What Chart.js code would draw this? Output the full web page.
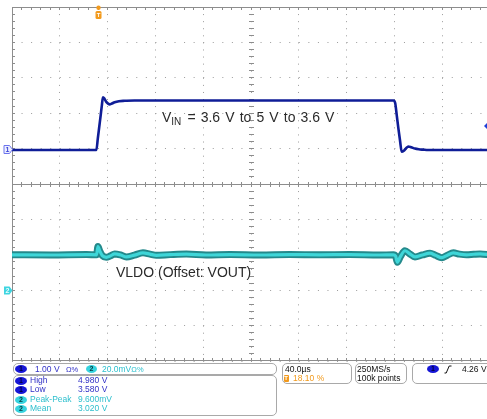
<!DOCTYPE html>
<html>
<head>
<meta charset="utf-8">
<title>VIN line transient – VLDO response</title>
<script src="https://cdn.jsdelivr.net/npm/chart.js@4.4.1/dist/chart.umd.min.js"></script>
<style>
  html, body { margin:0; padding:0; background:#fff; width:487px; height:419px; overflow:hidden; }
  #scope { position:absolute; left:0; top:0; }
  .note { position:absolute; font-family:'Liberation Sans', Arial, sans-serif; font-size:14px; line-height:16px; color:#2b2b2b; white-space:nowrap; }
  .note sub { font-size:10px; vertical-align:-3px; line-height:0; margin-right:1px; }
  .box { position:absolute; border:1px solid #a9a9a9; border-radius:5px; box-sizing:border-box; }
  .txt { position:absolute; font-family:'Liberation Sans', Arial, sans-serif; font-size:8.5px; line-height:9px; white-space:nowrap; color:#111; }
  .c1 { color:#3131c6; }
  .c2 { color:#2cbfcd; }
  .or { color:#f29a1d; }
  .badge { position:absolute; height:8px; border-radius:50%; font-family:'Liberation Sans', Arial, sans-serif; font-size:7px; font-weight:bold; line-height:8px; text-align:center; }
  .b1 { background:#1616d6; color:#00003c; }
  .b2 { background:#37d3df; color:#053a3e; }
  .tb { position:absolute; width:5px; height:7px; border-radius:1px; background:#f29a1d; color:#fff; font-family:'Liberation Sans', Arial, sans-serif; font-size:6px; font-weight:bold; line-height:7px; text-align:center; }
</style>
</head>
<body>
<canvas id="scope" width="492" height="419"></canvas>

<div class="note" style="left:162px;top:109px;word-spacing:1.2px">V<sub>IN</sub> = 3.6 V to 5 V to 3.6 V</div>
<div class="note" style="left:116px;top:264px">VLDO (Offset: VOUT)</div>

<!-- vertical settings -->
<div class="box" style="left:13px;top:363px;width:264px;height:12px"></div>
<div class="badge b1" style="left:15px;top:365px;width:12px">1</div>
<div class="txt c1" style="left:35px;top:364.5px">1.00 V</div>
<div class="txt c1" style="left:66px;top:364.5px;font-size:7.5px">Ω%</div>
<div class="badge b2" style="left:86px;top:365px;width:11px">2</div>
<div class="txt c2" style="left:102px;top:364.5px">20.0mV<span style="font-size:7.5px">Ω%</span></div>

<!-- measurements -->
<div class="box" style="left:13px;top:375px;width:264px;height:41px"></div>
<div class="badge b1" style="left:15px;top:376.5px;width:12px">1</div>
<div class="txt c1" style="left:30px;top:375.6px">High</div>
<div class="txt c1" style="left:78px;top:375.6px">4.980 V</div>
<div class="badge b1" style="left:15px;top:386px;width:12px">1</div>
<div class="txt c1" style="left:30px;top:385px">Low</div>
<div class="txt c1" style="left:78px;top:385px">3.580 V</div>
<div class="badge b2" style="left:15px;top:395.5px;width:12px">2</div>
<div class="txt c2" style="left:30px;top:394.9px">Peak-Peak</div>
<div class="txt c2" style="left:78px;top:394.9px">9.600mV</div>
<div class="badge b2" style="left:15px;top:405px;width:12px">2</div>
<div class="txt c2" style="left:30px;top:404.3px">Mean</div>
<div class="txt c2" style="left:78px;top:404.3px">3.020 V</div>

<!-- horizontal settings -->
<div class="box" style="left:282px;top:363px;width:70px;height:21px"></div>
<div class="txt" style="left:285px;top:364.5px">40.0µs</div>
<div class="tb" style="left:283.5px;top:375px">T</div>
<div class="txt or" style="left:293px;top:374px">18.10 %</div>

<div class="box" style="left:355px;top:363px;width:52px;height:21px"></div>
<div class="txt" style="left:357px;top:364.5px">250MS/s</div>
<div class="txt" style="left:357px;top:374px">100k points</div>

<!-- trigger settings -->
<div class="box" style="left:412px;top:363px;width:90px;height:21px"></div>
<div class="badge b1" style="left:427px;top:365px;width:12px">1</div>
<svg style="position:absolute;left:444px;top:365px" width="8" height="9" viewBox="0 0 8 9">
  <polyline points="0.5,8 2.2,8 5.2,1 7.5,1" fill="none" stroke="#111" stroke-width="1"/>
</svg>
<div class="txt" style="left:462px;top:364.5px">4.26 V</div>

<script>
// ---- acquisition settings ----
const TIME_PER_DIV = 40;                 // µs / div
const TRIG_POS = 0.181;                  // trigger position in record (18.10 %)
const X_MIN = -TRIG_POS * 10 * TIME_PER_DIV;
const X_MAX = X_MIN + 10 * TIME_PER_DIV;

const CH1_PER_DIV = 1.0;                 // V / div
const CH1_CENTER = 2.62;                 // V at screen centre
const CH1_REF = 3.6;                     // channel 1 level marker
const CH2_PER_DIV = 0.020;               // V / div
const CH2_CENTER = 3.060;                // V at screen centre
const CH2_REF = 3.000;                   // channel 2 offset marker (VOUT)
const TRIG_LEVEL = 4.26;                 // V, rising edge on channel 1

// ---- channel 1: VIN (V) vs time (µs) ----
const ch1Time = [X_MIN, -1.8, -0.6, 0.6, 1.8, 2.8, 3.7, 5.0, 6.5, 8.0, 9.3, 11.0, 13.5, 17.0, 22.0, 30.0,
                 247.0, 248.3, 249.6, 250.9, 252.3, 253.7, 255.5, 257.4, 259.2, 261.6, 264.8, 268.0, 271.5, 276.0, X_MAX];
const ch1Volts = [3.58, 3.58, 3.90, 4.23, 4.56, 4.84, 5.07, 5.03, 4.94, 4.89, 4.87, 4.89, 4.93, 4.96, 4.97, 4.98,
                  4.98, 4.90, 4.55, 4.20, 3.85, 3.53, 3.56, 3.63, 3.68, 3.66, 3.62, 3.60, 3.59, 3.58, 3.58];

// ---- channel 2: VLDO (V) vs time (µs) ----
const ch2Time = [X_MIN, -40, -10, -1.6, -0.5, 1.0, 3.2, 6.5, 10.0, 13.5, 18.5, 23.3, 30.0, 37.2, 43.0, 48.4,
                 60.0, 73.5, 90.0, 110, 135, 160, 185, 210, 235, 246.8, 248.6, 250.0, 252.6, 256.4, 260.5,
                 264.8, 271.0, 277.4, 282.0, 287.2, 292.0, 296.9, 302.0, 308.0, 314.0, 319.3, X_MAX];
const ch2Volts = [3.0200, 3.0199, 3.0201, 3.0200, 3.0247, 3.0222, 3.0195, 3.0186, 3.0194, 3.0205, 3.0199, 3.0188, 3.0198, 3.0211, 3.0204, 3.0197,
                  3.0201, 3.0204, 3.0199, 3.0201, 3.0199, 3.0201, 3.0200, 3.0201, 3.0199, 3.0200, 3.0193, 3.0158, 3.0190, 3.0223, 3.0205,
                  3.0188, 3.0199, 3.0209, 3.0197, 3.0184, 3.0198, 3.0211, 3.0204, 3.0200, 3.0203, 3.0205, 3.0200];

const pts = (t, v) => t.map((x, i) => ({ x, y: v[i] }));
const divTicks = (min, step) => Array.from({ length: 11 }, (_, i) => ({ value: min + i * step }));

const Y1_MIN = CH1_CENTER - 5 * CH1_PER_DIV, Y1_MAX = CH1_CENTER + 5 * CH1_PER_DIV;
const Y2_MIN = CH2_CENTER - 5 * CH2_PER_DIV, Y2_MAX = CH2_CENTER + 5 * CH2_PER_DIV;

// solid frame, horizontal centre line and minor tick marks (5 per division)
const graticule = {
  id: 'graticule',
  beforeDatasetsDraw(chart) {
    const { ctx, chartArea: a, scales } = chart;
    const xs = scales.x, ys = scales.y;
    const row = v => Math.floor(v);
    const top = row(a.top), bottom = row(a.bottom) - 1, left = row(a.left);
    const yMid = row(ys.getPixelForValue(CH1_CENTER));
    const xMid = row(xs.getPixelForValue((X_MIN + X_MAX) / 2));
    ctx.save();
    ctx.strokeStyle = '#8d8d8d';
    ctx.lineWidth = 1;
    ctx.beginPath();
    ctx.moveTo(a.left, top + 0.5); ctx.lineTo(a.right, top + 0.5);
    ctx.moveTo(a.left, bottom + 0.5); ctx.lineTo(a.right, bottom + 0.5);
    ctx.moveTo(a.left, yMid + 0.5); ctx.lineTo(a.right, yMid + 0.5);
    ctx.moveTo(left + 0.5, a.top); ctx.lineTo(left + 0.5, a.bottom);
    for (let i = 1; i < 50; i++) {
      const x = row(xs.getPixelForValue(X_MIN + i * TIME_PER_DIV / 5)) + 0.5;
      ctx.moveTo(x, top); ctx.lineTo(x, top + 3);
      ctx.moveTo(x, bottom + 1); ctx.lineTo(x, bottom - 2);
      ctx.moveTo(x, yMid - 2); ctx.lineTo(x, yMid + 3);
    }
    for (let j = 1; j < 50; j++) {
      const y = row(ys.getPixelForValue(Y1_MIN + j * CH1_PER_DIV / 5)) + 0.5;
      ctx.moveTo(left, y); ctx.lineTo(left + 3, y);
      ctx.moveTo(xMid - 2, y); ctx.lineTo(xMid + 3, y);
    }
    ctx.stroke();
    ctx.restore();
  }
};

// trigger position / channel reference / trigger level indicators
const indicators = {
  id: 'indicators',
  afterDatasetsDraw(chart) {
    const { ctx, chartArea: a, scales } = chart;
    ctx.save();
    // trigger position
    const tx = scales.x.getPixelForValue(0);
    ctx.fillStyle = '#f29a1d';
    ctx.beginPath(); ctx.arc(tx, a.top + 0.8, 2.2, 0, Math.PI * 2); ctx.fill();
    ctx.beginPath(); ctx.roundRect(tx - 3, a.top + 4, 6, 8, 1.5); ctx.fill();
    ctx.fillStyle = '#fff';
    ctx.font = 'bold 6px "Liberation Sans", Arial, sans-serif';
    ctx.textAlign = 'center'; ctx.textBaseline = 'middle';
    ctx.fillText('T', tx, a.top + 8.3);

    const tag = (y, fill, stroke, label, color) => {
      ctx.beginPath();
      ctx.moveTo(4, y - 4); ctx.lineTo(9.5, y - 4); ctx.lineTo(12.5, y);
      ctx.lineTo(9.5, y + 4); ctx.lineTo(4, y + 4); ctx.closePath();
      ctx.fillStyle = fill; ctx.fill();
      if (stroke) { ctx.strokeStyle = stroke; ctx.lineWidth = 1; ctx.stroke(); }
      ctx.fillStyle = color;
      ctx.font = 'bold 7px "Liberation Sans", Arial, sans-serif';
      ctx.fillText(label, 7.5, y + 0.5);
    };
    tag(Math.round(scales.y.getPixelForValue(CH1_REF)) + 0.5, '#eef0ff', '#6c74ee', '1', '#3a44d8');
    tag(Math.round(scales.y2.getPixelForValue(CH2_REF)) + 0.5, '#3fd5e1', null, '2', '#e8ffff');

    // trigger level
    const ty = scales.y.getPixelForValue(TRIG_LEVEL);
    ctx.fillStyle = '#1d3fd8';
    ctx.beginPath();
    ctx.moveTo(484, ty); ctx.lineTo(487, ty - 3); ctx.lineTo(490, ty); ctx.lineTo(487, ty + 3);
    ctx.closePath(); ctx.fill();
    ctx.restore();
  }
};

// Chart.js paints the first dataset last (on top)
new Chart(document.getElementById('scope'), {
  type: 'line',
  data: {
    datasets: [
      { label: 'VIN', data: pts(ch1Time, ch1Volts), yAxisID: 'y',
        borderColor: '#0f1d97', borderWidth: 2.6, pointRadius: 0, cubicInterpolationMode: 'monotone' },
      { label: 'VLDO', data: pts(ch2Time, ch2Volts), yAxisID: 'y2',
        borderColor: '#3fd6d8', borderWidth: 3.2, pointRadius: 0, cubicInterpolationMode: 'monotone' },
      { label: 'VLDO band', data: pts(ch2Time, ch2Volts), yAxisID: 'y2',
        borderColor: '#24898b', borderWidth: 7, pointRadius: 0, cubicInterpolationMode: 'monotone' }
    ]
  },
  options: {
    responsive: false,
    animation: false,
    devicePixelRatio: 1,
    layout: { padding: { left: 12, top: 7, right: 2, bottom: 58 } },
    plugins: { legend: { display: false }, tooltip: { enabled: false } },
    scales: {
      x: {
        type: 'linear', min: X_MIN, max: X_MAX,
        afterBuildTicks: s => { s.ticks = divTicks(X_MIN, TIME_PER_DIV); },
        ticks: { display: false },
        grid: { color: '#9c9c9c', lineWidth: 1, drawTicks: false },
        border: { display: false, dash: [1, 6.08] }
      },
      y: {
        type: 'linear', min: Y1_MIN, max: Y1_MAX,
        afterBuildTicks: s => { s.ticks = divTicks(Y1_MIN, CH1_PER_DIV); },
        ticks: { display: false },
        grid: { color: '#9c9c9c', lineWidth: 1, drawTicks: false },
        border: { display: false, dash: [1, 8.56] }
      },
      y2: { type: 'linear', min: Y2_MIN, max: Y2_MAX, display: false }
    }
  },
  plugins: [graticule, indicators]
});
</script>
</body>
</html>
